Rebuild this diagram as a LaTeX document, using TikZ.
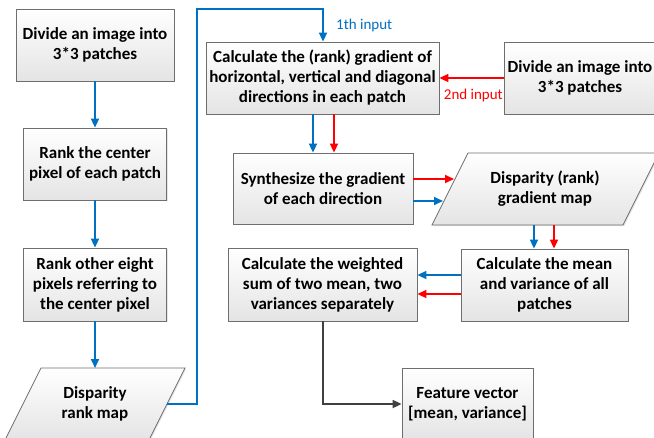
\documentclass[tikz,border=0pt]{standalone}
\usepackage{fontspec}
\setmainfont{Carlito}
\usetikzlibrary{arrows.meta,shadows}
\definecolor{oblue}{HTML}{0070C0}
\definecolor{ored}{HTML}{FF0000}
\definecolor{ogray}{HTML}{404040}
\definecolor{bdr}{HTML}{6E6E6E}
\definecolor{fillbot}{HTML}{E4E4E4}
\begin{document}
\begin{tikzpicture}[x=1pt,y=-1pt,
  shade/.style={draw=bdr, line width=0.8pt, top color=white, bottom color=fillbot,
    drop shadow={shadow xshift=1.2pt, shadow yshift=-1.2pt, opacity=0.2}},
  box/.style={shade, rectangle, align=center, inner sep=0pt,
    font=\fontsize{17}{20}\selectfont\bfseries},
  txt/.style={align=center, inner sep=0pt, font=\fontsize{17}{20}\selectfont\bfseries},
  lbl/.style={inner sep=0pt, font=\fontsize{15}{17}\selectfont},
  tip/.style={-{Triangle[length=9pt,width=8pt]}},
  bl/.style={draw=oblue, line width=1.7pt, tip},
  rd/.style={draw=ored, line width=1.7pt, tip},
  gr/.style={draw=ogray, line width=1.7pt, tip}]
\useasboundingbox (0,0) rectangle (654,437);

% left column
\node[box, minimum width=158pt, minimum height=72pt] (a1) at (95,45) {Divide an image into\\3*3 patches};
\node[box, minimum width=143pt, minimum height=72pt] (a2) at (95,164) {Rank the center\\pixel of each patch};
\node[box, minimum width=143pt, minimum height=73pt] (a3) at (95,284.5) {Rank other eight\\pixels referring to\\the center pixel};
\path[shade] (41,368) -- (185,368) -- (149,440) -- (5,440) -- cycle;
\node[txt] (a4) at (95,404) {Disparity\\rank map};
\coordinate (a4e) at (167,404);

% right part
\node[box, minimum width=233pt, minimum height=72pt] (b1) at (322.5,78) {Calculate the (rank) gradient of\\horizontal, vertical and diagonal\\directions in each patch};
\node[box, minimum width=152pt, minimum height=72pt] (b2) at (580,78) {Divide an image into\\3*3 patches};
\node[box, minimum width=180pt, minimum height=71pt] (b3) at (323,188.5) {Synthesize the gradient\\of each direction};
\path[shade] (468,153) -- (659,153) -- (623,225) -- (432,225) -- cycle;
\node[txt] (b4) at (545,189) {Disparity (rank)\\gradient map};
\coordinate (b4i1) at (454,179);
\coordinate (b4i2) at (443,201);
\coordinate (b4o1) at (534,225);
\coordinate (b4o2) at (554,225);
\node[box, minimum width=167pt, minimum height=72pt] (b5) at (544.5,285) {Calculate the mean\\and variance of all\\patches};
\node[box, minimum width=189pt, minimum height=73pt] (b6) at (322.5,284.5) {Calculate the weighted\\sum of two mean, two\\variances separately};
\node[box, minimum width=131pt, minimum height=72pt] (b7) at (467.5,404) {Feature vector\\{[mean, variance]}};

% labels
\node[lbl, text=oblue, anchor=west] (l1) at (336,25) {1th input};
\node[lbl, text=ored, anchor=east] (l2) at (503,95) {2nd input};

% connectors
\draw[bl] (a1.south -| 95,0) -- (a2.north);
\draw[bl] (a2.south) -- (a3.north);
\draw[bl] (a3.south) -- (95,368);
\draw[bl] (a4e) -| (197,9) -| (323,0 |- b1.north);
\draw[rd] (b2.west) -- (b1.east);
\draw[bl] (313,0 |- b1.south) -- (313,0 |- b3.north);
\draw[rd] (334,0 |- b1.south) -- (334,0 |- b3.north);
\draw[rd] (b3.east |- 0,179) -- (b4i1);
\draw[bl] (b3.east |- 0,201) -- (b4i2);
\draw[bl] (b4o1) -- (534,0 |- b5.north);
\draw[rd] (b4o2) -- (554,0 |- b5.north);
\draw[bl] (b5.west |- 0,275) -- (b6.east |- 0,275);
\draw[rd] (b5.west |- 0,294) -- (b6.east |- 0,294);
\draw[gr] (323,0 |- b6.south) |- (b7.west);
\end{tikzpicture}
\end{document}
